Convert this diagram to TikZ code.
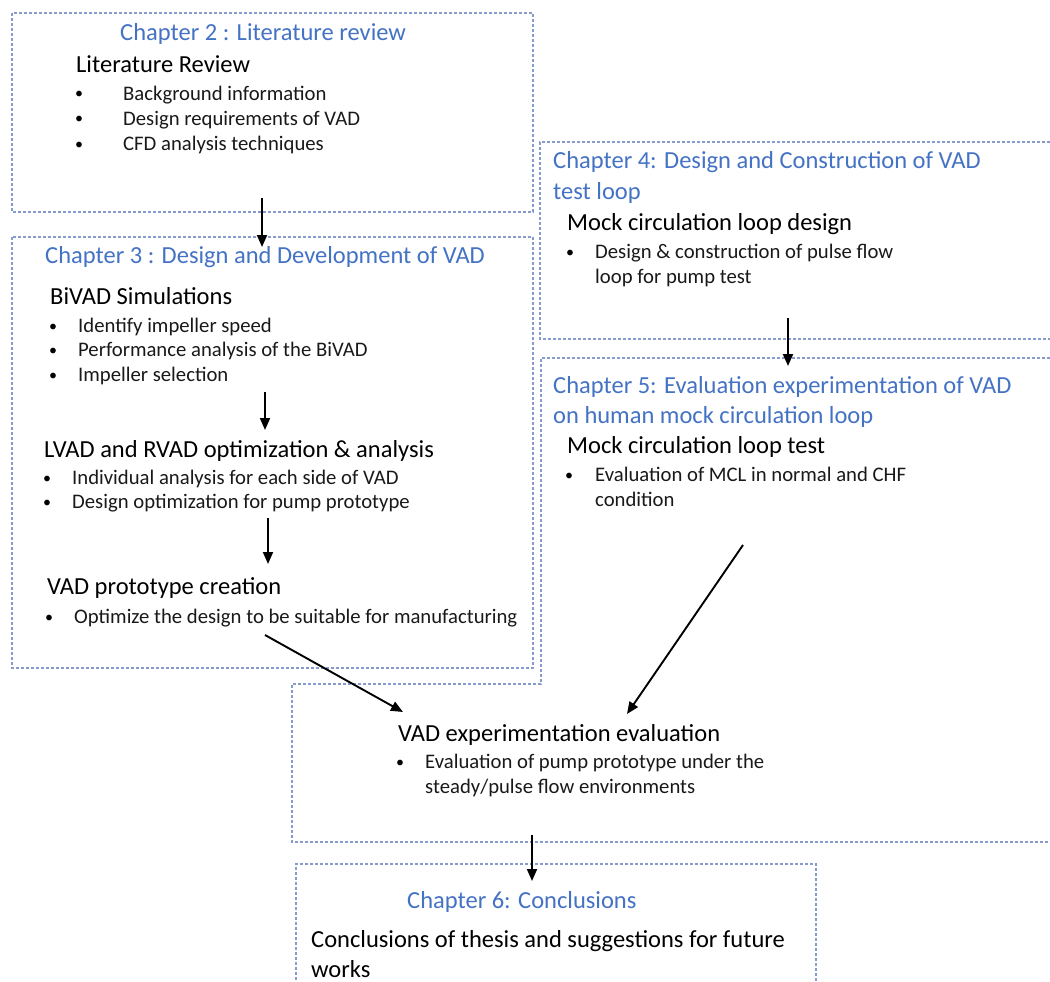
\documentclass[tikz,border=0pt]{standalone}
\usepackage{fontspec}
\setmainfont{Carlito}
\usetikzlibrary{arrows.meta}
\definecolor{titleblue}{RGB}{68,114,196}
\definecolor{boxcol}{RGB}{135,155,205}
\tikzset{
  ttl/.style={anchor=base west, inner sep=0pt, text=titleblue, font=\fontsize{24.5}{29}\selectfont},
  hd/.style={anchor=base west, inner sep=0pt, text=black, font=\fontsize{24.5}{29}\selectfont},
  bt/.style={anchor=base west, inner sep=0pt, text=black!90, font=\fontsize{20.7}{25}\selectfont},
  bdot/.style={anchor=base west, inner sep=0pt, text=black, font=\fontsize{16}{20}\selectfont},
  boxline/.style={draw=boxcol, dash pattern=on 3pt off 2pt, line width=1.1pt},
  arr/.style={-{Triangle[length=12pt,width=10pt]}, line width=1.9pt, black}
}
\begin{document}
\begin{tikzpicture}[x=1pt,y=-1pt]
\useasboundingbox (0,0) rectangle (1050,982);
\clip (0,0) rectangle (1050,982);
\fill[white] (0,0) rectangle (1050,982);

% boxes
\draw[boxline] (12,13) rectangle (533,212);
\draw[boxline] (12,237) rectangle (533,668);
\draw[boxline] (1070,142) -- (540,142) -- (540,339) -- (1070,339);
\draw[boxline] (1070,358) -- (541,358) -- (541,684) -- (292,684) -- (292,842) -- (1070,842);
\draw[boxline] (296,1000) -- (296,864) -- (816,864) -- (816,1000);

% Chapter 2
\node[ttl] (t2) at (120,41) {Chapter 2 : Literature review};
\node[hd] (h2) at (76,73) {Literature Review};
\node[bdot] (d2a) at (75,99) {•};
\node[bt] (b2a) at (123,100) {Background information};
\node[bdot] (d2b) at (75,124) {•};
\node[bt] (b2b) at (123,125) {Design requirements of VAD};
\node[bdot] (d2c) at (75,149) {•};
\node[bt] (b2c) at (123,150) {CFD analysis techniques};

% Chapter 3
\node[ttl] (t3) at (45,263) {Chapter 3 : Design and Development of VAD};
\node[hd] (h3a) at (50,304) {BiVAD Simulations};
\node[bdot] (d3a) at (49,331) {•};
\node[bt] (b3a) at (78,332) {Identify impeller speed};
\node[bdot] (d3b) at (49,355) {•};
\node[bt] (b3b) at (78,356) {Performance analysis of the BiVAD};
\node[bdot] (d3c) at (49,380) {•};
\node[bt] (b3c) at (78,381) {Impeller selection};
\node[hd] (h3b) at (44,457) {LVAD and RVAD optimization \& analysis};
\node[bdot] (d3d) at (43,483) {•};
\node[bt] (b3d) at (72,484) {Individual analysis for each side of VAD};
\node[bdot] (d3e) at (43,507) {•};
\node[bt] (b3e) at (72,508) {Design optimization for pump prototype};
\node[hd] (h3c) at (47,594) {VAD prototype creation};
\node[bdot] (d3f) at (45,622) {•};
\node[bt] (b3f) at (74,623) {Optimize the design to be suitable for manufacturing};

% Chapter 4
\node[ttl] (t4a) at (553,168) {Chapter 4: Design and Construction of VAD};
\node[ttl] (t4b) at (553,199) {test loop};
\node[hd] (h4) at (567,230) {Mock circulation loop design};
\node[bdot] (d4) at (566,257) {•};
\node[bt] (b4a) at (595,258) {Design \& construction of pulse flow};
\node[bt] (b4b) at (595,283) {loop for pump test};

% Chapter 5
\node[ttl] (t5a) at (553,393) {Chapter 5: Evaluation experimentation of VAD};
\node[ttl] (t5b) at (553,423) {on human mock circulation loop};
\node[hd] (h5) at (567,453) {Mock circulation loop test};
\node[bdot] (d5) at (565,480) {•};
\node[bt] (b5a) at (595,481) {Evaluation of MCL in normal and CHF};
\node[bt] (b5b) at (595,506) {condition};

% Evaluation
\node[hd] (he) at (398,741) {VAD experimentation evaluation};
\node[bdot] (de) at (396,767) {•};
\node[bt] (bea) at (425,768) {Evaluation of pump prototype under the};
\node[bt] (beb) at (425,793) {steady/pulse flow environments};

% Chapter 6
\node[ttl] (t6) at (407,908) {Chapter 6: Conclusions};
\node[hd] (h6a) at (311,947) {Conclusions of thesis and suggestions for future};
\node[hd] (h6b) at (311,977) {works};

% arrow end points
\coordinate (a1s) at (262,198); \coordinate (a1e) at (262,247);
\coordinate (a2s) at (265,392); \coordinate (a2e) at (265,430);
\coordinate (a3s) at (268,518); \coordinate (a3e) at (268,564);
\coordinate (a4s) at (788,318); \coordinate (a4e) at (788,366);
\coordinate (a5s) at (265,635); \coordinate (a5e) at (403,712);
\coordinate (a6s) at (743,545); \coordinate (a6e) at (627,714);
\coordinate (a7s) at (532,835); \coordinate (a7e) at (532,881);

\draw[arr] (a1s) -- (a1e);
\draw[arr] (a2s) -- (a2e);
\draw[arr] (a3s) -- (a3e);
\draw[arr] (a4s) -- (a4e);
\draw[arr] (a5s) -- (a5e);
\draw[arr] (a6s) -- (a6e);
\draw[arr] (a7s) -- (a7e);
\end{tikzpicture}
\end{document}
